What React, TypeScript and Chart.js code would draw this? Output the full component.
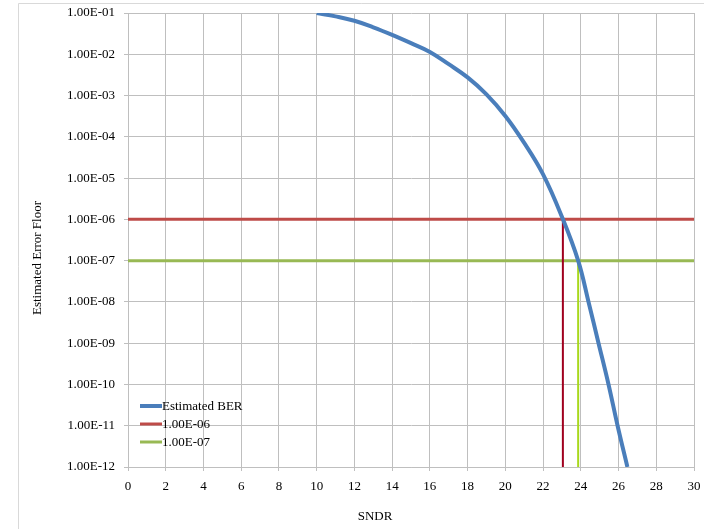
import React, { useEffect, useRef } from "react";
import { Chart, registerables } from "chart.js";

Chart.register(...registerables);

const berX = [10, 11, 12, 13, 14, 15, 16, 17, 18, 19, 20, 21, 22, 23, 23.86, 24.41, 24.94, 25.47, 25.95, 26.47];
const berY = [1e-1, 8.3e-2, 6.5e-2, 4.5e-2, 2.95e-2, 1.86e-2, 1.14e-2, 5.75e-3, 2.75e-3, 1.07e-3, 3.2e-4, 7.1e-5, 1.23e-5, 1.15e-6, 1e-7, 1e-8, 1e-9, 1e-10, 1e-11, 1e-12];
const thresholdLabels = ["1.00E-06", "1.00E-07"];
const thresholdLevels = [1e-6, 1e-7];
const thresholdCross = [23.05, 23.86];
const xRange = [0, 30];
const yDecades = [1e-12, 1e-11, 1e-10, 1e-9, 1e-8, 1e-7, 1e-6, 1e-5, 1e-4, 1e-3, 1e-2, 1e-1];

const BLUE = "#4A7EBB";
const RED = "#BE4B48";
const RED_DARK = "#A0001E";
const GREEN = "#98B954";
const GREEN_LIME = "#A8D81C";
const GRID = "#BFBFBF";
const FONT = "'Liberation Serif', 'Times New Roman', serif";

function fmtExp(v: number): string {
  const e = Math.round(Math.log10(v));
  return "1.00E" + (e < 0 ? "-" : "+") + String(Math.abs(e)).padStart(2, "0");
}

const decorPlugin = {
  id: "decor",
  beforeDraw(chart: any) {
    const ctx = chart.ctx;
    ctx.save();
    ctx.fillStyle = "#FFFFFF";
    ctx.fillRect(0, 0, chart.width, chart.height);
    ctx.strokeStyle = "#D9D9D9";
    ctx.lineWidth = 1;
    ctx.beginPath();
    ctx.moveTo(18.5, chart.height + 2);
    ctx.lineTo(18.5, 3.5);
    ctx.lineTo(chart.width + 2, 3.5);
    ctx.stroke();
    ctx.restore();
  },
  afterDraw(chart: any) {
    const ctx = chart.ctx;
    const a = chart.chartArea;
    ctx.save();
    ctx.fillStyle = "#000000";
    ctx.font = "13px " + FONT;
    ctx.textAlign = "center";
    ctx.textBaseline = "middle";
    ctx.fillText("SNDR", a.left + 247, 517);
    ctx.save();
    ctx.translate(38, 258);
    ctx.rotate(-Math.PI / 2);
    ctx.fillText("Estimated Error Floor", 0, 0);
    ctx.restore();
    const items = [
      { label: "Estimated BER", color: BLUE, w: 4 },
      { label: thresholdLabels[0], color: RED, w: 3 },
      { label: thresholdLabels[1], color: GREEN, w: 3 },
    ];
    ctx.textAlign = "left";
    items.forEach((it, i) => {
      const y = 406 + i * 18;
      ctx.strokeStyle = it.color;
      ctx.lineWidth = it.w;
      ctx.beginPath();
      ctx.moveTo(140, y);
      ctx.lineTo(162, y);
      ctx.stroke();
      ctx.fillText(it.label, 162, y + 1);
    });
    ctx.restore();
  },
};

export default function App() {
  const ref = useRef<HTMLCanvasElement>(null);
  useEffect(() => {
    document.body.style.margin = "0";
    const ber = berX.map((x, i) => ({ x, y: berY[i] }));
    const datasets: any[] = [
      {
        label: "Estimated BER",
        data: ber,
        borderColor: BLUE,
        backgroundColor: BLUE,
        borderWidth: 4,
        pointRadius: 0,
        tension: 0.4,
        order: 0,
      },
    ];
    const hColors = [RED, GREEN];
    const vColors = [RED_DARK, GREEN_LIME];
    thresholdLevels.forEach((lvl, i) => {
      datasets.push({
        label: thresholdLabels[i],
        data: [
          { x: xRange[0], y: lvl },
          { x: xRange[1], y: lvl },
        ],
        borderColor: hColors[i],
        backgroundColor: hColors[i],
        borderWidth: 3,
        pointRadius: 0,
        order: 2,
      });
      datasets.push({
        label: thresholdLabels[i] + " crossing",
        data: [
          { x: thresholdCross[i], y: lvl },
          { x: thresholdCross[i], y: yDecades[0] },
        ],
        borderColor: vColors[i],
        backgroundColor: vColors[i],
        borderWidth: 2,
        pointRadius: 0,
        order: 1,
      });
    });
    const chart = new Chart(ref.current as HTMLCanvasElement, {
      type: "line",
      data: { datasets },
      plugins: [decorPlugin],
      options: {
        animation: false,
        responsive: false,
        layout: { padding: { top: 13, right: 10, bottom: 0, left: 0 } },
        plugins: { legend: { display: false }, tooltip: { enabled: false } },
        scales: {
          x: {
            type: "linear",
            min: xRange[0],
            max: xRange[1],
            ticks: { stepSize: 2, color: "#000", font: { family: FONT, size: 13 }, padding: 8 },
            grid: { color: GRID, tickLength: 4 },
            border: { color: GRID },
            afterFit: (s: any) => {
              s.height = 62;
              s.paddingRight = 0;
              s.paddingLeft = 0;
            },
          },
          y: {
            type: "logarithmic",
            min: yDecades[0],
            max: yDecades[yDecades.length - 1],
            afterBuildTicks: (s: any) => {
              s.ticks = yDecades.map((v) => ({ value: v }));
            },
            ticks: {
              color: "#000",
              font: { family: FONT, size: 13 },
              padding: 9,
              autoSkip: false,
              callback: (v: any) => fmtExp(Number(v)),
            },
            grid: { color: GRID, tickLength: 4 },
            border: { color: GRID },
            afterFit: (s: any) => {
              s.width = 128;
              s.paddingTop = 0;
              s.paddingBottom = 0;
            },
          },
        },
      },
    });
    return () => chart.destroy();
  }, []);
  return (
    <div style={{ width: 704, height: 529 }}>
      <canvas ref={ref} width={704} height={529} style={{ display: "block" }} />
    </div>
  );
}
